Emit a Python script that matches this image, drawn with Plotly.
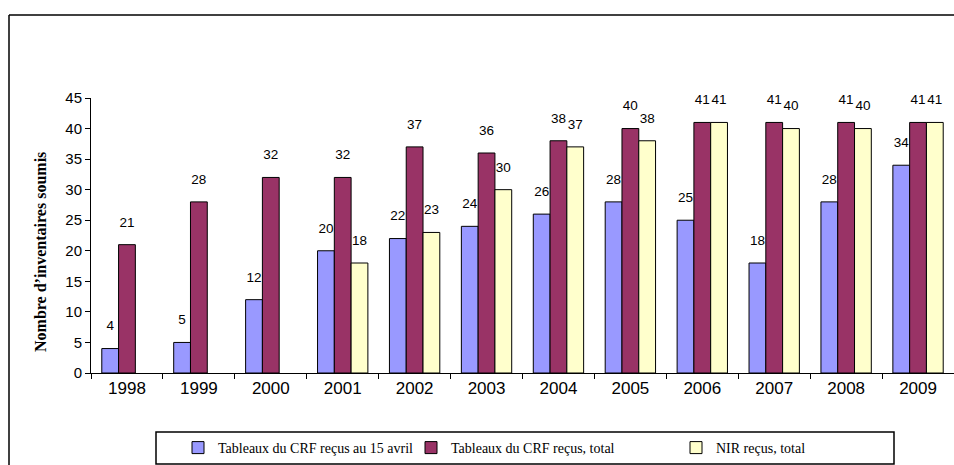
import plotly.graph_objects as go

years = ["1998", "1999", "2000", "2001", "2002", "2003", "2004", "2005", "2006", "2007", "2008", "2009"]
crf_15_avril = [4, 5, 12, 20, 22, 24, 26, 28, 25, 18, 28, 34]
crf_total = [21, 28, 32, 32, 37, 36, 38, 40, 41, 41, 41, 41]
nir_total = [None, None, None, 18, 23, 30, 37, 38, 41, 40, 40, 41]
series_names = ["Tableaux du CRF reçus au 15 avril", "Tableaux du CRF reçus, total", "NIR reçus, total"]
y_ticks = [0, 5, 10, 15, 20, 25, 30, 35, 40, 45]
y_title = "Nombre d’inventaires soumis"

colors = ["#9999FF", "#993366", "#FFFFCC"]

W, H = 954, 465
L, R, T, B = 91, 0, 98, 92
pw, ph = W - L - R, H - T - B

def px_x(x):
    return (x - L) / pw

def px_y(y):
    return (H - B - y) / ph

fig = go.Figure()
legend_ids = ["legend", "legend2", "legend3"]
for i, (name, vals, col) in enumerate(zip(series_names, [crf_15_avril, crf_total, nir_total], colors)):
    fig.add_trace(go.Bar(
        x=years, y=vals, name=name,
        marker=dict(color=col, line=dict(color="black", width=1)),
        legend=legend_ids[i],
        offsetgroup=str(i), alignmentgroup="a",
    ))
for i, vals in enumerate([crf_15_avril, crf_total, nir_total]):
    fig.add_trace(go.Scatter(
        x=years, y=vals, mode="markers+text",
        text=[("" if v is None else str(v)) for v in vals],
        textposition="top center",
        textfont=dict(family="Liberation Sans, Arial", size=13.5, color="black"),
        marker=dict(size=22, opacity=0),
        showlegend=False, hoverinfo="skip", cliponaxis=False,
        offsetgroup=str(i), alignmentgroup="a",
    ))

leg_font = dict(family="Liberation Serif, Times New Roman", size=14, color="black")
leg_common = dict(orientation="h", xanchor="left", yanchor="middle", font=leg_font,
                  bgcolor="rgba(0,0,0,0)", borderwidth=0, itemwidth=30)

frame = dict(color="black", width=1.5)

fig.update_layout(
    width=W, height=H,
    margin=dict(l=L, r=R, t=T, b=B, autoexpand=False),
    paper_bgcolor="white", plot_bgcolor="white",
    barmode="group", bargap=0.3, bargroupgap=0,
    scattermode="group", scattergap=0.3,
    showlegend=True,
    legend=dict(x=px_x(178), y=px_y(448), **leg_common),
    legend2=dict(x=px_x(411), y=px_y(448), **leg_common),
    legend3=dict(x=px_x(676), y=px_y(448), **leg_common),
    xaxis=dict(
        type="category", range=[-0.5, 11.5],
        showline=True, linecolor="black", linewidth=1,
        ticks="outside", ticklen=5, tickcolor="black", tickson="boundaries",
        tickfont=dict(family="Liberation Sans, Arial", size=17, color="black"),
        showgrid=False,
    ),
    yaxis=dict(
        range=[0, 45], tickvals=y_ticks,
        showline=True, linecolor="black", linewidth=1,
        ticks="outside", ticklen=5, tickcolor="black",
        tickfont=dict(family="Liberation Sans, Arial", size=15, color="black"),
        showgrid=False, zeroline=False,
    ),
    annotations=[
        dict(text="<b>" + y_title + "</b>", textangle=-90, showarrow=False,
             xref="paper", yref="paper", x=px_x(40), y=px_y(252),
             xanchor="center", yanchor="middle",
             font=dict(family="Liberation Serif, Times New Roman", size=16, color="black")),
    ],
    shapes=[
        dict(type="line", xref="paper", yref="paper",
             x0=px_x(9), x1=px_x(954), y0=px_y(15), y1=px_y(15), line=frame, layer="below"),
        dict(type="line", xref="paper", yref="paper",
             x0=px_x(9), x1=px_x(9), y0=px_y(15), y1=px_y(465), line=frame, layer="below"),
        dict(type="rect", xref="paper", yref="paper",
             x0=px_x(156), x1=px_x(894), y0=px_y(432), y1=px_y(464),
             line=frame, fillcolor="rgba(0,0,0,0)", layer="below"),
    ],
)

fig.write_html("out.html", config={"displayModeBar": False},
               post_script="document.body.style.margin='0';document.body.style.overflow='hidden';")
